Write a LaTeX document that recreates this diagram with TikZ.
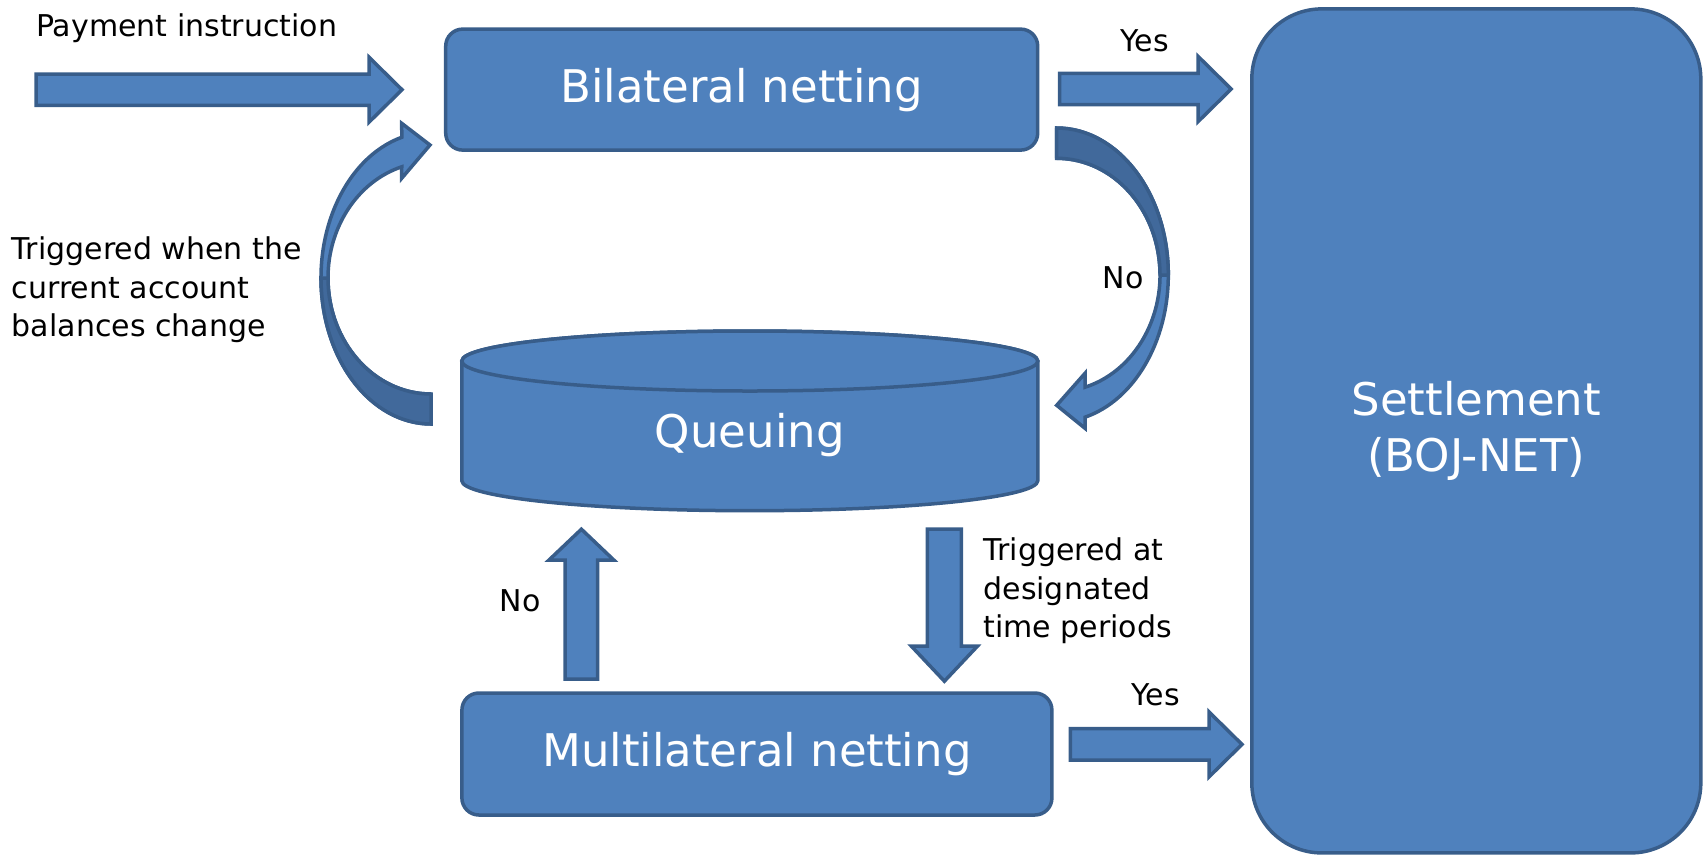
\documentclass[tikz,border=0pt]{standalone}
\usepackage{fontspec}
\setmainfont{DejaVu Sans}
\usetikzlibrary{calc}
\definecolor{boxblue}{HTML}{4F81BD}
\definecolor{edgeblue}{HTML}{385D8A}
\definecolor{backblue}{HTML}{41699B}

\begin{document}
\begin{tikzpicture}[x=1pt, y=-1pt,
    box/.style={draw=edgeblue, fill=boxblue, line width=3.5pt, rounded corners=17pt, text=white, font=\fontsize{45}{56}\selectfont, inner sep=0pt},
    blockarrow/.style={draw=edgeblue, fill=boxblue, line width=3.5pt, line join=miter},
    backpart/.style={draw=edgeblue, fill=backblue, line width=3.5pt, line join=round},
    note/.style={font=\fontsize{30}{38.5}\selectfont, align=left, inner sep=0pt}]
        \useasboundingbox (0,0) rectangle (1704,855);

        % boxes
        \node[box, minimum width=592pt, minimum height=121pt] (bilat) at (741.7,89.6) {Bilateral netting};
        \node[box, minimum width=590pt, minimum height=122pt] (multi) at (756.9,754) {Multilateral netting};
        \node[box, rounded corners=70pt, minimum width=449pt, minimum height=844pt, align=center] (settle) at (1476.3,430.9) {Settlement\\(BOJ-NET)};

        % queue (cylinder)
        \coordinate (qtop) at (749.8,361);
        \draw[blockarrow] (461.8,361) -- (461.8,480.7) arc[start angle=180, end angle=0, x radius=288, y radius=30] -- (1037.8,361) arc[start angle=0, end angle=-180, x radius=288, y radius=30] -- cycle;
        \draw[blockarrow] (qtop) ellipse[x radius=288, y radius=30];
        \node[text=white, font=\fontsize{45}{56}\selectfont] (queue) at (749.8,435) {Queuing};

        % straight arrows
        \coordinate (payS) at (36,89.7);
        \coordinate (yesA) at (1059.5,89);
        \coordinate (yesB) at (1070.4,744.4);
        \coordinate (noUp) at (581.4,679.2);
        \coordinate (timeDn) at (944.4,529.2);

        \draw[blockarrow] (payS) ++(0,-15.7) -- ++(333,0) -- ++(0,-16.8) -- ++(33,32.5) -- ++(-33,32.5) -- ++(0,-16.8) -- ++(-333,0) -- cycle;
        \draw[blockarrow] (yesA) ++(0,-15.7) -- ++(138.7,0) -- ++(0,-16.8) -- ++(33,32.5) -- ++(-33,32.5) -- ++(0,-16.8) -- ++(-138.7,0) -- cycle;
        \draw[blockarrow] (yesB) ++(0,-15.7) -- ++(138.6,0) -- ++(0,-16.8) -- ++(33,32.5) -- ++(-33,32.5) -- ++(0,-16.8) -- ++(-138.6,0) -- cycle;
        \draw[blockarrow] (noUp) ++(-16.3,0) -- ++(0,-119) -- ++(-16.3,0) -- ++(32.6,-31) -- ++(32.6,31) -- ++(-16.3,0) -- ++(0,119) -- cycle;
        \draw[blockarrow] (timeDn) ++(-17,0) -- ++(0,117) -- ++(-16,0) -- ++(33,35) -- ++(33,-35) -- ++(-16,0) -- ++(0,-117) -- cycle;

        % curved arrows
        \coordinate (c1) at (431,278);
        \draw[blockarrow] ($(c1)+(254.6:110 and 146)$) arc[start angle=254.6, end angle=90, x radius=110, y radius=146] -- ++(0,-30) arc[start angle=90, end angle=253.5, x radius=103, y radius=116] -- (401.7,178.3) -- (430,145) -- (401.7,123.3) -- cycle;
        \draw[backpart] ($(c1)+(180:110 and 146)$) arc[start angle=180, end angle=90, x radius=110, y radius=146] -- ++(0,-30) arc[start angle=90, end angle=180, x radius=103, y radius=116] -- cycle;

        \coordinate (c2) at (1056.7,275);
        \draw[blockarrow] ($(c2)+(-90:111.6 and 147)$) arc[start angle=-90, end angle=75.3, x radius=111.6, y radius=147] -- (1085,428.3) -- (1056.7,405.3) -- (1085,373.3) -- ($(c2)+(74.1:103.3 and 116.7)$) arc[start angle=74.1, end angle=-90, x radius=103.3, y radius=116.7] -- cycle;
        \draw[backpart] ($(c2)+(-90:111.6 and 147)$) arc[start angle=-90, end angle=0, x radius=111.6, y radius=147] -- ++(-8.3,0) arc[start angle=0, end angle=-90, x radius=103.3, y radius=116.7] -- cycle;

        % labels
        \node[note, anchor=base west] (pay) at (36,36.7) {Payment instruction};
        \node[note, anchor=west] (trigA) at (11.7,290) {Triggered when the\\current account\\balances change};
        \node[note, anchor=west] (trigB) at (983.3,591) {Triggered at\\designated\\time periods};
        \node[note, anchor=base] (yes1) at (1144.5,51) {Yes};
        \node[note, anchor=base] (yes2) at (1155.6,705.5) {Yes};
        \node[note, anchor=base] (no1) at (1123,288) {No};
        \node[note, anchor=base] (no2) at (520,611) {No};
    \end{tikzpicture}
\end{document}
